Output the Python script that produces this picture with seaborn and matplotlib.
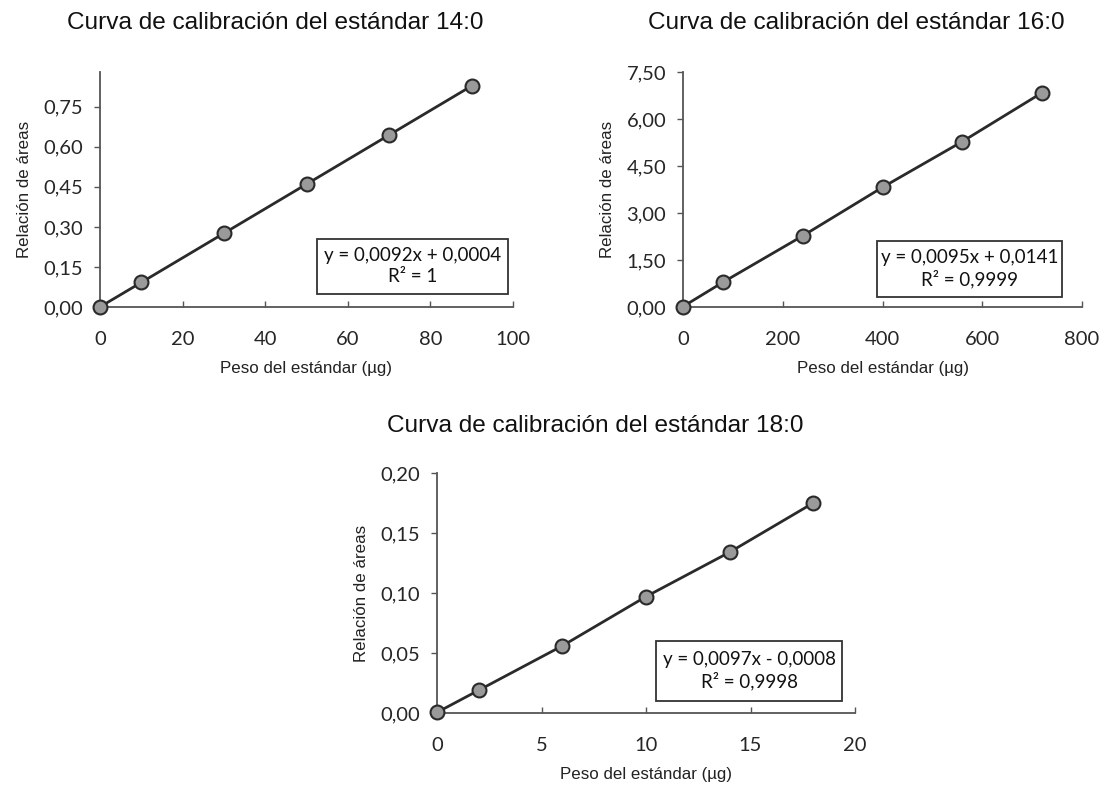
import matplotlib
matplotlib.use("Agg")
import matplotlib.pyplot as plt
import seaborn as sns
import pandas as pd
from matplotlib import font_manager

sns.set_theme(style="white")

# ---------------- data ----------------
titles = ["Curva de calibración del estándar 14:0",
          "Curva de calibración del estándar 16:0",
          "Curva de calibración del estándar 18:0"]

x_140 = [0, 10, 30, 50, 70, 90]
y_140 = [0.0004, 0.092, 0.276, 0.460, 0.644, 0.828]

x_160 = [0, 80, 240, 400, 560, 720]
y_160 = [0.0141, 0.79, 2.27, 3.82, 5.28, 6.84]

x_180 = [0, 2, 6, 10, 14, 18]
y_180 = [0.0005, 0.019, 0.056, 0.097, 0.134, 0.175]

xticks_140 = [0, 20, 40, 60, 80, 100]
yticks_140 = [0.00, 0.15, 0.30, 0.45, 0.60, 0.75]
xticks_160 = [0, 200, 400, 600, 800]
yticks_160 = [0.00, 1.50, 3.00, 4.50, 6.00, 7.50]
xticks_180 = [0, 5, 10, 15, 20]
yticks_180 = [0.00, 0.05, 0.10, 0.15, 0.20]

equations = ["y = 0,0092x + 0,0004\nR² = 1",
             "y = 0,0095x + 0,0141\nR² = 0,9999",
             "y = 0,0097x - 0,0008\nR² = 0,9998"]

xlabel = "Peso del estándar (µg)"
ylabel = "Relación de áreas"

# ---------------- fonts ----------------
avail = {f.name for f in font_manager.fontManager.ttflist}
txtfont = "Liberation Sans"
numfont = "Lato" if "Lato" in avail else "DejaVu Sans"
plt.rcParams["font.family"] = [numfont, "DejaVu Sans"]

W, H = 1120, 789
fig = plt.figure(figsize=(W / 100, H / 100), dpi=100)

def axes_rect(l, r, t, b):
    return [l / W, 1 - b / H, (r - l) / W, (b - t) / H]

specs = [
    dict(rect=axes_rect(100, 513, 72, 307), x=x_140, y=y_140, xt=xticks_140, yt=yticks_140,
         xlim=(0, 100), ylim=(0, 0.88), title_xy=(275, 23),
         box=(0.526, 0.987, 0.057, 0.29)),
    dict(rect=axes_rect(683, 1082, 72, 307), x=x_160, y=y_160, xt=xticks_160, yt=yticks_160,
         xlim=(0, 800), ylim=(0, 7.5), title_xy=(856, 23),
         box=(0.486, 0.95, 0.043, 0.282)),
    dict(rect=axes_rect(437, 855, 473, 713), x=x_180, y=y_180, xt=xticks_180, yt=yticks_180,
         xlim=(0, 20), ylim=(0, 0.2), title_xy=(595, 426),
         box=(0.524, 0.969, 0.052, 0.30)),
]

for i, s in enumerate(specs):
    ax = fig.add_axes(s["rect"])
    df = pd.DataFrame({"x": s["x"], "y": s["y"]})
    sns.lineplot(data=df, x="x", y="y", ax=ax, color="#2a2a2a", linewidth=2,
                 marker="o", markersize=10, markerfacecolor="#9a9a9a",
                 markeredgecolor="#2a2a2a", markeredgewidth=1.5, clip_on=False, zorder=3)
    ax.set_xlim(*s["xlim"])
    ax.set_ylim(*s["ylim"])
    ax.set_xticks(s["xt"])
    ax.set_yticks(s["yt"])
    ax.set_xticklabels([f"{v:g}" for v in s["xt"]], fontsize=14.5, family=[numfont, "DejaVu Sans"])
    ax.set_yticklabels([f"{v:.2f}".replace(".", ",") for v in s["yt"]], fontsize=14.5,
                       family=[numfont, "DejaVu Sans"])
    for side in ["top", "right"]:
        ax.spines[side].set_visible(False)
    for side in ["left", "bottom"]:
        ax.spines[side].set_color("#555555")
        ax.spines[side].set_linewidth(1.3)
    ax.tick_params(axis="x", direction="in", length=4, width=1, color="#555555", pad=17,
                   bottom=True)
    ax.tick_params(axis="y", direction="out", length=4, width=1, color="#555555", pad=8,
                   left=True)
    ax.set_xlabel(xlabel, fontsize=12.2, family=[txtfont, "DejaVu Sans"], labelpad=10, color="#222222")
    ax.set_ylabel(ylabel, fontsize=12.2, family=[txtfont, "DejaVu Sans"], labelpad=8, color="#222222")
    tx, ty = s["title_xy"]
    fig.text(tx / W, 1 - ty / H, titles[i], fontsize=17.6, family=[txtfont, "DejaVu Sans"],
             ha="center", va="center", color="#111111")
    ax.grid(False)
    ax.set_facecolor("white")

    x0, x1, y0, y1 = s["box"]
    rect = plt.Rectangle((x0, y0), x1 - x0, y1 - y0, transform=ax.transAxes,
                         fill=True, facecolor="white", edgecolor="#333333", linewidth=1.3,
                         zorder=4, clip_on=False)
    ax.add_patch(rect)
    ax.text((x0 + x1) / 2, (y0 + y1) / 2, equations[i], transform=ax.transAxes,
            ha="center", va="center", fontsize=13.5, linespacing=1.25,
            family=[numfont, "DejaVu Sans"], color="#111111", zorder=5)

fig.savefig("out.png", dpi=100, facecolor="white")
